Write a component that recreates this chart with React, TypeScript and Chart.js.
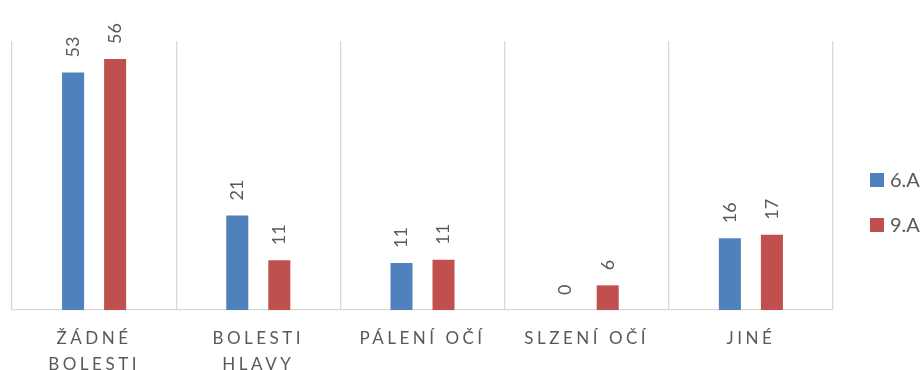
import React, { useEffect, useRef } from 'react';
import { Chart, registerables } from 'chart.js';

Chart.register(...registerables);

const categories: (string | string[])[] = [
  ['ŽÁDNÉ', 'BOLESTI'],
  ['BOLESTI', 'HLAVY'],
  'PÁLENÍ OČÍ',
  'SLZENÍ OČÍ',
  'JINÉ',
];
const seriesNames = ['6.A', '9.A'];
const series6A = [53, 21.1, 10.5, 0, 16];
const series9A = [56, 11.1, 11.2, 5.5, 16.8];
const seriesColors = ['#4F81BD', '#C0504D'];

const TEXT_COLOR = '#595959';
const FONT_FAMILY = 'Lato, Carlito, "Open Sans", sans-serif';

const valueLabels = {
  id: 'valueLabels',
  afterDatasetsDraw(chart: any) {
    const ctx = chart.ctx;
    ctx.save();
    ctx.font = `18px ${FONT_FAMILY}`;
    ctx.fillStyle = TEXT_COLOR;
    ctx.textAlign = 'left';
    ctx.textBaseline = 'middle';
    chart.data.datasets.forEach((ds: any, i: number) => {
      const meta = chart.getDatasetMeta(i);
      meta.data.forEach((el: any, j: number) => {
        const v = ds.data[j];
        ctx.save();
        ctx.translate(el.x, el.y - 15);
        ctx.rotate(-Math.PI / 2);
        ctx.fillText(String(Math.round(v)), 0, 0);
        ctx.restore();
      });
    });
    ctx.restore();
  },
};

const sideLegend = {
  id: 'sideLegend',
  afterDraw(chart: any) {
    const ctx = chart.ctx;
    const x = chart.chartArea.right + 37;
    const startY = 180;
    const gap = 45;
    ctx.save();
    ctx.font = `20px ${FONT_FAMILY}`;
    ctx.textAlign = 'left';
    ctx.textBaseline = 'middle';
    chart.data.datasets.forEach((ds: any, i: number) => {
      const cy = startY + i * gap;
      ctx.fillStyle = ds.backgroundColor;
      ctx.fillRect(x, cy - 7, 14, 14);
      ctx.fillStyle = TEXT_COLOR;
      ctx.fillText(ds.label, x + 20, cy + 1);
    });
    ctx.restore();
  },
};

export default function App() {
  const ref = useRef<HTMLCanvasElement | null>(null);

  useEffect(() => {
    if (!ref.current) return;
    const chart = new Chart(ref.current, {
      type: 'bar',
      data: {
        labels: categories,
        datasets: [
          {
            label: seriesNames[0],
            data: series6A,
            backgroundColor: seriesColors[0],
            categoryPercentage: 0.512,
            barPercentage: 0.524,
          },
          {
            label: seriesNames[1],
            data: series9A,
            backgroundColor: seriesColors[1],
            categoryPercentage: 0.512,
            barPercentage: 0.524,
          },
        ],
      },
      options: {
        responsive: true,
        maintainAspectRatio: false,
        animation: false,
        layout: { padding: { top: 41, right: 91, left: 12, bottom: 0 } },
        plugins: {
          legend: { display: false },
          tooltip: { enabled: false },
        },
        scales: {
          x: {
            grid: {
              display: true,
              color: '#D9D9D9',
              lineWidth: 1.3,
              drawTicks: false,
              offset: true,
            },
            border: { display: true, color: '#D9D9D9', width: 1.3 },
            ticks: {
              color: TEXT_COLOR,
              font: { family: FONT_FAMILY, size: 17, lineHeight: 1.5 },
              padding: 16,
              maxRotation: 0,
              autoSkip: false,
            },
            afterFit: (scale: any) => {
              scale.height = 60;
            },
            afterUpdate: (scale: any) => {
              if (scale.__spaced) return;
              scale.__spaced = true;
              const orig = scale.drawLabels.bind(scale);
              scale.drawLabels = (area: any) => {
                const ctx = scale.ctx;
                const prev = ctx.letterSpacing;
                ctx.letterSpacing = '3.5px';
                orig(area);
                ctx.letterSpacing = prev || '0px';
              };
            },
          },
          y: {
            display: false,
            min: 0,
            max: 60,
          },
        },
      },
      plugins: [valueLabels, sideLegend],
    } as any);
    return () => chart.destroy();
  }, []);

  return (
    <div
      style={{
        position: 'fixed',
        left: 0,
        top: 0,
        width: 924,
        height: 370,
        background: '#fff',
      }}
    >
      <canvas ref={ref} />
    </div>
  );
}
